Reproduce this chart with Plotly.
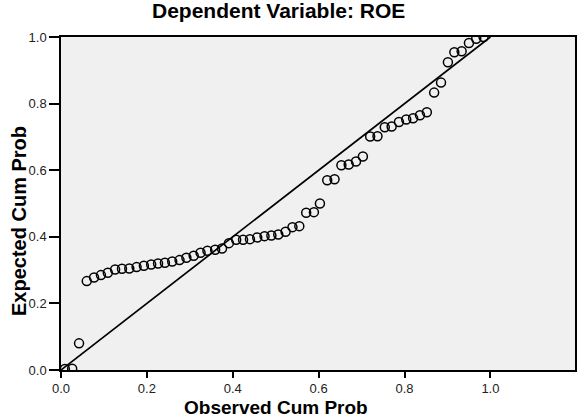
import plotly.graph_objects as go

# Observed vs expected cumulative probabilities
observed = [0.009, 0.026, 0.042, 0.060, 0.077, 0.093, 0.109, 0.126, 0.142, 0.159,
            0.176, 0.193, 0.210, 0.226, 0.242, 0.259, 0.276, 0.292, 0.309, 0.325,
            0.341, 0.359, 0.375, 0.391, 0.408, 0.424, 0.440, 0.457, 0.474, 0.490,
            0.506, 0.523, 0.539, 0.555, 0.571, 0.589, 0.603, 0.620, 0.637, 0.653,
            0.670, 0.687, 0.703, 0.720, 0.737, 0.754, 0.770, 0.787, 0.804, 0.820,
            0.836, 0.852, 0.869, 0.885, 0.901, 0.916, 0.933, 0.950, 0.967, 0.984]
expected = [0.003, 0.004, 0.080, 0.267, 0.278, 0.285, 0.292, 0.302, 0.304, 0.305,
            0.309, 0.313, 0.317, 0.320, 0.322, 0.326, 0.330, 0.337, 0.343, 0.352,
            0.358, 0.361, 0.365, 0.381, 0.391, 0.391, 0.393, 0.398, 0.402, 0.404,
            0.407, 0.415, 0.429, 0.432, 0.472, 0.474, 0.500, 0.570, 0.573, 0.615,
            0.617, 0.626, 0.641, 0.701, 0.702, 0.729, 0.731, 0.745, 0.752, 0.756,
            0.765, 0.774, 0.833, 0.863, 0.924, 0.954, 0.957, 0.982, 0.995, 1.000]
ref_line = [0.0, 1.0]
tick_vals = [0.0, 0.2, 0.4, 0.6, 0.8, 1.0]
tick_text = ["0.0", "0.2", "0.4", "0.6", "0.8", "1.0"]

title_text = "Dependent Variable: ROE"
x_title = "Observed Cum Prob"
y_title = "Expected Cum Prob"

FONT = "Liberation Sans, Arial, sans-serif"

fig = go.Figure()
fig.add_trace(go.Scatter(x=ref_line, y=ref_line, mode="lines",
                         line=dict(color="black", width=1.7),
                         hoverinfo="skip", showlegend=False))
fig.add_trace(go.Scatter(x=observed, y=expected, mode="markers",
                         marker=dict(symbol="circle-open", size=9,
                                     color="black", line=dict(width=1.5, color="black")),
                         showlegend=False))

axis_common = dict(showgrid=False, zeroline=False, showline=True, linecolor="black",
                   linewidth=1.5, mirror=True, ticks="outside",
                   tickcolor="black", tickwidth=1.5,
                   tickfont=dict(family=FONT, size=13, color="#222"))

fig.update_layout(
    width=585, height=419,
    margin=dict(l=61, r=8, t=37, b=49),
    paper_bgcolor="white",
    plot_bgcolor="#f0f0f0",
    xaxis=dict(range=[0, 1.197], tickvals=tick_vals, ticktext=tick_text,
               ticklen=6, **axis_common),
    yaxis=dict(range=[0, 1.0], tickvals=tick_vals, ticktext=tick_text,
               ticklen=10, **axis_common),
    annotations=[
        dict(text="<b>" + title_text + "</b>", xref="paper", yref="paper",
             x=0.424, y=1.079, xanchor="center", yanchor="middle", showarrow=False,
             font=dict(family=FONT, size=21, color="black")),
        dict(text="<b>" + x_title + "</b>", xref="paper", yref="paper",
             x=0.419, y=-0.1126, xanchor="center", yanchor="middle", showarrow=False,
             font=dict(family=FONT, size=19, color="black")),
        dict(text="<b>" + y_title + "</b>", xref="paper", yref="paper",
             x=-0.082, y=0.447, xanchor="center", yanchor="middle", showarrow=False,
             textangle=-90, font=dict(family=FONT, size=20, color="black")),
    ],
)

fig.write_html("out.html")
